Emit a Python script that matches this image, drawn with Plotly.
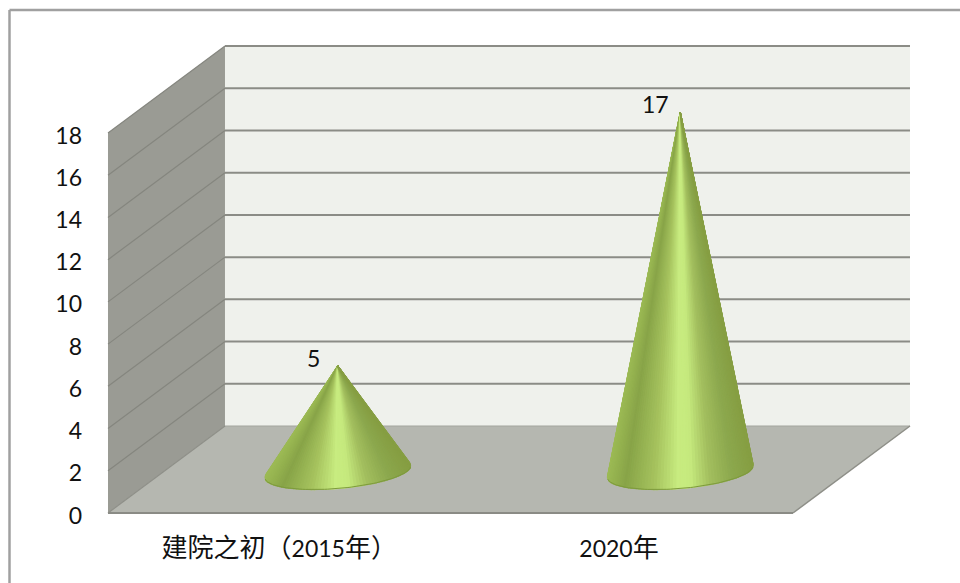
import math
import plotly.graph_objects as go

# ---- data ----
categories = ["建院之初（2015年）", "2020年"]
values = [5, 17]
y_ticks = [0, 2, 4, 6, 8, 10, 12, 14, 16, 18]

# ---- pseudo-3D box, in axis units ----
X_LEFT, X_RIGHT = -0.5, 1.5
DEPTH_X, DEPTH_Y = 0.3416, 4.12
CONE_SHIFT_X, CONE_SHIFT_Y = 0.171, 1.96
CONE_A, CONE_B, CONE_SKEW = 0.213, 0.80, 0.284
Y_MAX = y_ticks[-1]
TICK_NUDGE = 0.12
RIM_EXTRA = 0.28

stops = [(-1.0, (156, 186, 84)), (-0.75, (136, 164, 72)), (-0.35, (166, 195, 94)),
         (-0.02, (200, 236, 128)), (0.15, (198, 234, 126)), (0.42, (162, 190, 94)),
         (0.72, (140, 168, 78)), (1.0, (134, 158, 66))]


def shade(u):
    for (u0, c0), (u1, c1) in zip(stops, stops[1:]):
        if u <= u1:
            f = (u - u0) / (u1 - u0)
            return "rgb(%d,%d,%d)" % tuple(round(a + (b - a) * f) for a, b in zip(c0, c1))
    return "rgb(%d,%d,%d)" % stops[-1][1]


def poly(xs, ys, color):
    return go.Scatter(x=xs, y=ys, mode="lines", fill="toself", fillcolor=color,
                      line=dict(width=0), hoverinfo="skip", showlegend=False)


def line(xs, ys, color, width):
    return go.Scatter(x=xs, y=ys, mode="lines", line=dict(color=color, width=width),
                      hoverinfo="skip", showlegend=False)


fig = go.Figure()

# walls and floor
bx = X_LEFT + DEPTH_X
fig.add_trace(poly([X_LEFT, bx, bx, X_LEFT, X_LEFT],
                   [Y_MAX, Y_MAX + DEPTH_Y, DEPTH_Y, 0, Y_MAX], "#9a9b94"))
fig.add_trace(poly([bx, X_RIGHT + DEPTH_X, X_RIGHT + DEPTH_X, bx, bx],
                   [DEPTH_Y, DEPTH_Y, Y_MAX + DEPTH_Y, Y_MAX + DEPTH_Y, DEPTH_Y], "#eff1ec"))
fig.add_trace(poly([X_LEFT, bx, X_RIGHT + DEPTH_X, X_RIGHT, X_LEFT],
                   [0, DEPTH_Y, DEPTH_Y, 0, 0], "#b5b7b0"))

# gridlines on the two walls
for t in y_ticks:
    if t > 0:
        fig.add_trace(line([X_LEFT, bx], [t, t + DEPTH_Y], "#85867f", 1.2))
        fig.add_trace(line([bx, X_RIGHT + DEPTH_X], [t + DEPTH_Y, t + DEPTH_Y], "#8b8c86", 2))
fig.add_trace(line([bx, X_RIGHT + DEPTH_X], [DEPTH_Y, DEPTH_Y], "#a3a59e", 1.2))
fig.add_trace(line([X_LEFT, bx], [0, DEPTH_Y], "#8e8f88", 1.2))
fig.add_trace(line([X_RIGHT, X_RIGHT + DEPTH_X], [0, DEPTH_Y], "#8e8f88", 1.5))
fig.add_trace(line([X_LEFT, X_RIGHT], [0, 0], "#8a8b85", 2.2))

# cones: one fan of facets each
N = 80
annotations = []
for i, v in enumerate(values):
    cx = i + CONE_SHIFT_X
    cy = CONE_SHIFT_Y
    apex = cy + v
    rim_x, rim_y = [], []
    for k in range(N + 1):
        t = math.pi + RIM_EXTRA - (math.pi + 2 * RIM_EXTRA) * k / N
        rim_x.append(cx + CONE_A * math.cos(t))
        rim_y.append(cy - CONE_B * math.sin(t) + CONE_SKEW * math.cos(t))
    for k in range(N):
        u = (rim_x[k] + rim_x[k + 1]) / 2
        col = shade((u - cx) / CONE_A)
        fig.add_trace(go.Scatter(
            x=[cx, rim_x[k], rim_x[k + 1], cx], y=[apex, rim_y[k], rim_y[k + 1], apex],
            mode="lines", fill="toself", fillcolor=col, line=dict(color=col, width=1.2),
            hoverinfo="skip", showlegend=False))
    fig.add_trace(line(rim_x[8:-8], rim_y[8:-8], "#7d9a3c", 1))
    annotations.append(dict(x=cx, y=apex, text=str(v), showarrow=False, xshift=-24.5, yshift=8.5,
                            xanchor="center", yanchor="middle",
                            font=dict(size=23, color="#111111", family="Lato")))


def tick_label(s):
    out = []
    for ch in s:
        if ord(ch) > 127:
            out.append('<span style="font-size:26px">%s</span>' % ch)
        else:
            out.append(ch)
    return "".join(out)


fig.update_layout(
    width=960, height=583, autosize=False,
    margin=dict(l=0, r=0, t=0, b=0),
    paper_bgcolor="white", plot_bgcolor="white",
    showlegend=False,
    annotations=annotations,
    font=dict(family="Lato, 'Noto Sans CJK SC'", size=23, color="#111111"),
    xaxis=dict(range=[-0.8153, 1.9876], domain=[0, 1], anchor="free", position=70 / 583,
               tickmode="array", tickvals=[0.0, 0.992],
               ticktext=[tick_label(c) for c in categories],
               showgrid=False, zeroline=False, showline=False, ticks="",
               ticklabelstandoff=20, fixedrange=True,
               tickfont=dict(family="Lato, 'Noto Sans CJK SC'", size=23, color="#111111")),
    yaxis=dict(range=[-3.316, 24.30], domain=[0, 1], anchor="free", position=108 / 960,
               tickmode="array", tickvals=[t - TICK_NUDGE for t in y_ticks],
               ticktext=[str(t) for t in y_ticks],
               showgrid=False, zeroline=False, showline=False, ticks="",
               ticklabelstandoff=26, fixedrange=True,
               tickfont=dict(family="Lato", size=23, color="#111111")),
    shapes=[
        dict(type="line", xref="paper", yref="paper", x0=9.5 / 960, x1=1, y0=1 - 10 / 583, y1=1 - 10 / 583,
             line=dict(color="#a0a0a0", width=2.5)),
        dict(type="line", xref="paper", yref="paper", x0=9.5 / 960, x1=9.5 / 960, y0=0, y1=1 - 10 / 583,
             line=dict(color="#a0a0a0", width=2.5)),
    ],
)

fig.write_html("out.html", config={"displayModeBar": False},
               post_script="document.body.style.margin='0';")
